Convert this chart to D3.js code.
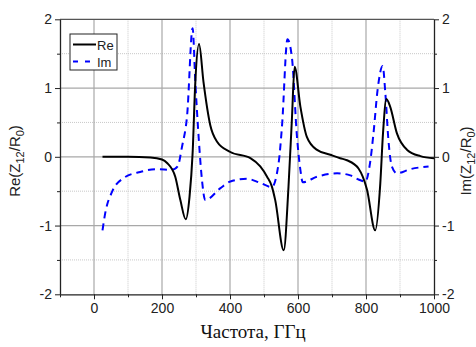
<!DOCTYPE html>
<html>
<head>
<meta charset="utf-8">
<script src="https://cdn.jsdelivr.net/npm/d3@7"></script>
<style>
  body { margin: 0; background: #fff; }
  text { font-family: "Liberation Sans", Arial, sans-serif; }
</style>
</head>
<body>
<div id="chart"></div>
<script>
// Re(Z12/R0) curve
const reFreq = [25, 100, 166, 200, 215, 239, 254, 270, 281, 290, 298, 309, 322, 342, 362, 401, 460, 489, 509, 523, 533, 558, 572, 582, 590, 607, 626, 656, 695, 724, 744, 778, 803, 827, 842, 850, 860, 871, 891, 921, 960, 1000];
const reVal  = [0.0, 0.0, -0.01, -0.04, -0.09, -0.29, -0.63, -0.91, -0.58, 0.05, 1.09, 1.64, 1.09, 0.46, 0.22, 0.07, -0.02, -0.14, -0.29, -0.43, -0.63, -1.36, -0.44, 0.54, 1.31, 0.73, 0.29, 0.10, 0.03, -0.02, -0.05, -0.17, -0.48, -1.07, -0.39, 0.34, 0.84, 0.73, 0.34, 0.10, 0.01, -0.02];

// Im(Z12/R0) curve
const imFreq = [25, 33, 53, 87, 136, 185, 229, 246, 259, 274, 290, 298, 308, 318, 327, 371, 401, 450, 489, 523, 543, 553, 569, 582, 597, 607, 614, 656, 715, 754, 778, 798, 813, 822, 834, 849, 857, 866, 876, 891, 930, 984];
const imVal  = [-1.07, -0.82, -0.51, -0.31, -0.22, -0.18, -0.19, -0.14, 0.15, 0.61, 1.87, 1.09, 0.27, -0.36, -0.63, -0.46, -0.36, -0.32, -0.38, -0.44, -0.09, 0.45, 1.71, 1.45, 0.29, -0.19, -0.37, -0.29, -0.24, -0.27, -0.33, -0.36, -0.05, 0.34, 0.97, 1.32, 0.92, 0.24, -0.14, -0.24, -0.18, -0.14];

const xMajor = [0, 200, 400, 600, 800, 1000];
const xMinor = [-100, 100, 300, 500, 700, 900];
const yMajor = [-2, -1, 0, 1, 2];
const yMinor = [-1.5, -0.5, 0.5, 1.5];

const width = 476, height = 347;
const plotL = 60, plotR = 434, plotT = 19.3, plotB = 294.3;

const svg = d3.select('#chart').append('svg')
  .attr('width', width)
  .attr('height', height);

const x = d3.scaleLinear().domain([-100, 1000]).range([plotL, plotR]);
const y = d3.scaleLinear().domain([-2, 2]).range([plotB, plotT]);
const fmt = d => String(d);

// grid
const grid = svg.append('g');
grid.selectAll('.vmin').data(xMinor.slice(1)).join('line')
  .attr('x1', d => x(d)).attr('x2', d => x(d)).attr('y1', plotT).attr('y2', plotB)
  .attr('stroke', '#c8c8c8').attr('stroke-dasharray', '1,1');
grid.selectAll('.hmin').data(yMinor).join('line')
  .attr('y1', d => y(d)).attr('y2', d => y(d)).attr('x1', plotL).attr('x2', plotR)
  .attr('stroke', '#c8c8c8').attr('stroke-dasharray', '1,1');
grid.selectAll('.vmaj').data(xMajor.slice(0, -1)).join('line')
  .attr('x1', d => x(d)).attr('x2', d => x(d)).attr('y1', plotT).attr('y2', plotB)
  .attr('stroke', '#a8a8a8').attr('stroke-width', 1.2);
grid.selectAll('.hmaj').data(yMajor.slice(1, -1)).join('line')
  .attr('y1', d => y(d)).attr('y2', d => y(d)).attr('x1', plotL).attr('x2', plotR)
  .attr('stroke', '#a8a8a8').attr('stroke-width', 1.2);

// top border
svg.append('line').attr('x1', plotL).attr('x2', plotR).attr('y1', plotT).attr('y2', plotT)
  .attr('stroke', '#555').attr('stroke-width', 1.2);

// axes
function styleAxis(g) {
  g.select('.domain').attr('stroke', '#222').attr('stroke-width', 1.3);
  g.selectAll('.tick line').attr('stroke', '#222');
  g.selectAll('.tick text').attr('fill', '#222').style('font-size', '14px');
}

svg.append('g').attr('transform', `translate(0,${plotB})`)
  .call(d3.axisBottom(x).tickValues(xMinor).tickSize(3).tickFormat(''))
  .call(g => g.select('.domain').remove())
  .call(styleAxis);
svg.append('g').attr('transform', `translate(0,${plotB})`)
  .call(d3.axisBottom(x).tickValues(xMajor).tickFormat(fmt).tickSize(5).tickSizeOuter(0).tickPadding(4))
  .call(styleAxis);

svg.append('g').attr('transform', `translate(${plotL},0)`)
  .call(d3.axisLeft(y).tickValues(yMinor).tickSize(3).tickFormat(''))
  .call(g => g.select('.domain').remove())
  .call(styleAxis);
svg.append('g').attr('transform', `translate(${plotL},0)`)
  .call(d3.axisLeft(y).tickValues(yMajor).tickFormat(fmt).tickSize(5).tickSizeOuter(0).tickPadding(3))
  .call(styleAxis);

svg.append('g').attr('transform', `translate(${plotR},0)`)
  .call(d3.axisRight(y).tickValues(yMinor).tickSize(3).tickFormat(''))
  .call(g => g.select('.domain').remove())
  .call(styleAxis);
svg.append('g').attr('transform', `translate(${plotR},0)`)
  .call(d3.axisRight(y).tickValues(yMajor).tickFormat(fmt).tickSize(5).tickSizeOuter(0).tickPadding(3))
  .call(styleAxis);

// curves
const line = d3.line().curve(d3.curveMonotoneX)
  .x(d => x(d[0])).y(d => y(d[1]));

svg.append('path')
  .datum(imFreq.map((f, i) => [f, imVal[i]]))
  .attr('d', line)
  .attr('fill', 'none')
  .attr('stroke', '#0000ff')
  .attr('stroke-width', 2)
  .attr('stroke-dasharray', '7,5');

svg.append('path')
  .datum(reFreq.map((f, i) => [f, reVal[i]]))
  .attr('d', line)
  .attr('fill', 'none')
  .attr('stroke', '#000')
  .attr('stroke-width', 2);

// legend
const lg = svg.append('g');
lg.append('rect').attr('x', 70).attr('y', 34).attr('width', 47).attr('height', 36)
  .attr('fill', '#fff').attr('stroke', '#222').attr('stroke-width', 1);
lg.append('line').attr('x1', 73).attr('x2', 96).attr('y1', 44.5).attr('y2', 44.5)
  .attr('stroke', '#000').attr('stroke-width', 2);
lg.append('line').attr('x1', 73).attr('x2', 96).attr('y1', 61.5).attr('y2', 61.5)
  .attr('stroke', '#0000ff').attr('stroke-width', 2).attr('stroke-dasharray', '5,7');
lg.append('text').attr('x', 97).attr('y', 49.5).text('Re').style('font-size', '13px').attr('fill', '#222');
lg.append('text').attr('x', 97).attr('y', 66.5).text('Im').style('font-size', '13px').attr('fill', '#222');

// axis titles
svg.append('text')
  .attr('x', 253).attr('y', 338)
  .attr('text-anchor', 'middle')
  .style('font-family', '"Liberation Serif", "Times New Roman", serif')
  .style('font-size', '19px')
  .attr('fill', '#111')
  .text('Частота, ГГц');

function yTitle(xPos, name) {
  const t = svg.append('text')
    .attr('transform', `translate(${xPos},161) rotate(-90)`)
    .attr('text-anchor', 'middle')
    .style('font-size', '15px')
    .attr('fill', '#222');
  t.append('tspan').text(name + '(Z');
  t.append('tspan').attr('dy', 4).style('font-size', '11px').text('12');
  t.append('tspan').attr('dy', -4).text('/R');
  t.append('tspan').attr('dy', 4).style('font-size', '11px').text('0');
  t.append('tspan').attr('dy', -4).text(')');
}
yTitle(19.5, 'Re');
yTitle(471, 'Im');
</script>
</body>
</html>
